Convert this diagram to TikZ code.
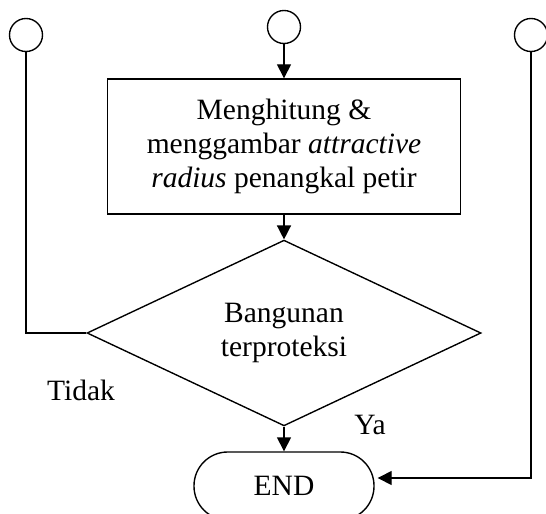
\documentclass[tikz,border=0pt]{standalone}
\usepackage{fontspec}
\setmainfont{Liberation Serif}
\usetikzlibrary{arrows.meta,shapes.geometric}

\begin{document}
\begin{tikzpicture}[x=0.4pt, y=-0.4pt, line width=0.55pt,
    >={Triangle[length=5.6pt,width=5.6pt]},
    every node/.style={font=\fontsize{11.8}{13.6}\selectfont},
    conn/.style={circle, draw, minimum size=13.2pt, inner sep=0pt},
    proc/.style={rectangle, draw, minimum width=141.2pt, minimum height=54pt,
        inner sep=0pt, align=center},
    decide/.style={diamond, draw, minimum width=157.6pt, minimum height=65.6pt,
        inner sep=0pt, align=center},
    term/.style={rectangle, draw, rounded corners=13.5pt, minimum width=72pt,
        minimum height=27.2pt, inner sep=0pt}]

    \useasboundingbox (0,0) rectangle (546,513);

    % Connectors
    \node[conn] (c1) at (26,35) {};
    \node[conn] (c2) at (284,27) {};
    \node[conn] (c3) at (531,35) {};

    % Process and decision
    \node[proc] (calc) at (284,146.5)
        {Menghitung \&\\ menggambar \textit{attractive}\\ \textit{radius} penangkal petir};
    \node[decide] (cek) at (284,333) {Bangunan\\ terproteksi};
    \node[term] (end) at (284,486) {END};

    % Flow
    \draw[->] (c2.south) -- (calc.north);
    \draw[->] (calc.south) -- (cek.north);
    \draw[->] (cek.south) -- (end.north);
    \draw (c1.south) |- (cek.west);
    \draw[->, shorten >=1.2pt] (c3.south) |- ([yshift=3.2pt]end.east);

    \node (tidak) at (81,390) {Tidak};
    \node (ya) at (370,425) {Ya};

\end{tikzpicture}
\end{document}
